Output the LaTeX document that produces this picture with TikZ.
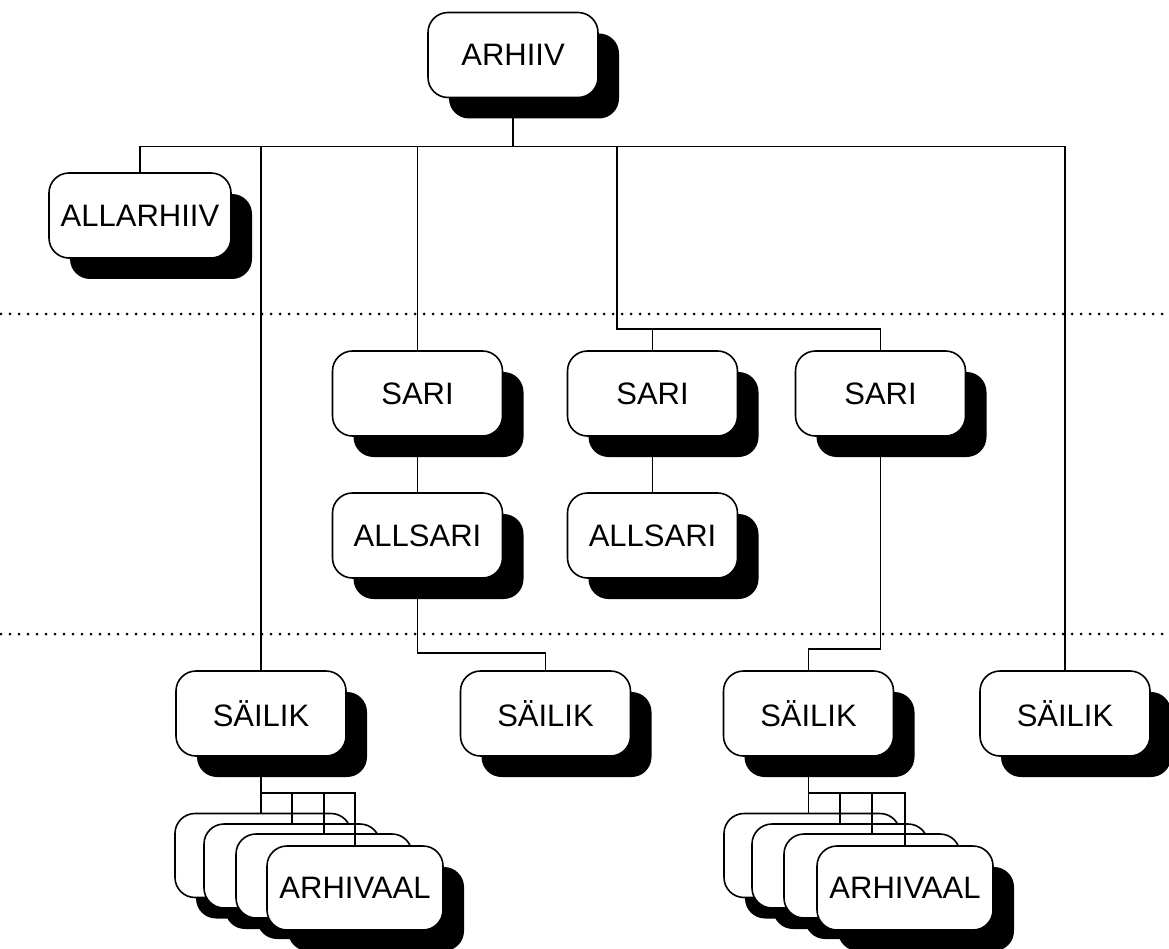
\documentclass[tikz,border=0pt]{standalone}
\usepackage{fontspec}
\setmainfont{Liberation Sans}
\usetikzlibrary{shadows,calc}
\pgfdeclarelayer{back}
\pgfdeclarelayer{background}
\pgfsetlayers{back,background,main}
\begin{document}
\begin{tikzpicture}[x=1pt,y=-1pt,
  box/.style={draw, line width=1.6pt, fill=white, rounded corners=20pt,
    minimum width=170pt, minimum height=85pt, inner sep=0pt,
    font=\fontsize{31}{37}\selectfont,
    drop shadow={shadow xshift=21pt, shadow yshift=-21pt, opacity=1, fill=black}},
  wbox/.style={box, minimum width=182pt},
  abox/.style={box, minimum width=176pt, minimum height=84pt},
  link/.style={line width=1.4pt},
  sepline/.style={line width=3pt, line cap=round, dash pattern=on 0pt off 9pt}]

\begin{pgfonlayer}{back}
  \fill[white] (0,0) rectangle (1169,949);
\end{pgfonlayer}
\useasboundingbox (0,0) rectangle (1169,949);

% separators
\coordinate (d1l) at (1,314);   \coordinate (d1r) at (1169,314);
\coordinate (d2l) at (1,634);   \coordinate (d2r) at (1169,634);
\draw[sepline] (d1l) -- (d1r);
\draw[sepline] (d2l) -- (d2r);

% nodes
\node[box]  (arh)  at (513,55)      {ARHIIV};
\node[wbox] (alla) at (140,215.5)   {ALLARHIIV};
\node[box]  (sar1) at (417.5,393.5) {SARI};
\node[box]  (sar2) at (652.5,393.5) {SARI};
\node[box]  (sar3) at (880.5,393.5) {SARI};
\node[box]  (als1) at (417.5,535.5) {ALLSARI};
\node[box]  (als2) at (652.5,535.5) {ALLSARI};
\node[box]  (sai1) at (261,713.5)   {SÄILIK};
\node[box]  (sai2) at (545.5,713.5) {SÄILIK};
\node[box]  (sai3) at (808.5,713.5) {SÄILIK};
\node[box]  (sai4) at (1065,713.5)  {SÄILIK};

\node[abox] (la1) at (263,855.5) {};
\node[abox] (la2) at (292,866)   {};
\node[abox] (la3) at (324,876)   {};
\node[abox] (la4) at (355,888)   {ARHIVAAL};

\node[abox] (ra1) at (812,855.5) {};
\node[abox] (ra2) at (840,866)   {};
\node[abox] (ra3) at (872,876)   {};
\node[abox] (ra4) at (905,888)   {ARHIVAAL};

% connectors behind shadows
\coordinate (bus) at ($(arh.south)+(0,48)$);
\coordinate (br)  at (617,329);
\coordinate (j1)  at (417.5,653);
\coordinate (j2)  at (880.5,649);
\coordinate (lc)  at ($(sai1.south)+(0,36)$);
\coordinate (rc)  at ($(sai3.south)+(0,36)$);
\begin{pgfonlayer}{background}
  \draw[link] (arh.south) -- (bus);
  \draw[link] (alla.north) -- (alla.north |- bus) -- (sai4.north |- bus) -- (sai4.north);
  \draw[link] (sai1.north |- bus) -- (sai1.north);
  \draw[link] (sar1.north |- bus) -- (sar1.north);
  \draw[link] (br |- bus) -- (br) -- (br -| sar3.north) -- (sar3.north);
  \draw[link] (br -| sar2.north) -- (sar2.north);
  \draw[link] (sar1.south) -- (als1.north);
  \draw[link] (sar2.south) -- (als2.north);
  \draw[link] (als1.south) -- (j1) -- (j1 -| sai2.north) -- (sai2.north);
  \draw[link] (sar3.south) -- (j2) -- (j2 -| sai3.north) -- (sai3.north);
  \draw[link] (sai1.south) -- (lc);
  \draw[link] (sai3.south) -- (rc);
\end{pgfonlayer}

% comb connectors into the stacks (on top)
\draw[link] (lc |- la1.north) -- (lc) -- (lc -| la4.north) -- (la4.north);
\draw[link] (lc -| la2.north) -- (la2.north);
\draw[link] (lc -| la3.north) -- (la3.north);
\draw[link] (rc |- ra1.north) -- (rc) -- (rc -| ra4.north) -- (ra4.north);
\draw[link] (rc -| ra2.north) -- (ra2.north);
\draw[link] (rc -| ra3.north) -- (ra3.north);
\end{tikzpicture}
\end{document}
